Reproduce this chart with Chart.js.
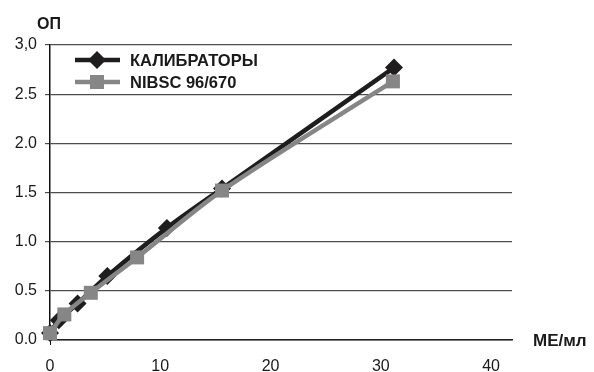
<!DOCTYPE html>
<html>
<head>
<meta charset="utf-8">
<script src="https://cdn.jsdelivr.net/npm/chart.js@4/dist/chart.umd.min.js"></script>
<style>
  html, body { margin: 0; padding: 0; background: #fff; }
  canvas { display: block; }
</style>
</head>
<body>
<canvas id="c" width="594" height="372"></canvas>
<script>
// Calibration curves: optical density (ОП) versus concentration (МЕ/мл)
const seriesNames = ['КАЛИБРАТОРЫ', 'NIBSC 96/670'];
const calibX = [0, 0.8, 2.5, 5.2, 10.6, 15.6, 31.2];
const calibY = [0.07, 0.2, 0.37, 0.65, 1.14, 1.54, 2.77];
const nibscX = [0, 1.3, 3.7, 7.9, 15.6, 31.1];
const nibscY = [0.07, 0.26, 0.48, 0.84, 1.52, 2.63];
const xTicks = [0, 10, 20, 30, 40];
const yTicks = [0, 0.5, 1, 1.5, 2, 2.5, 3];
const yTickLabels = ['0.0', '0.5', '1.0', '1.5', '2.0', '2.5', '3,0'];
const yAxisTitle = 'ОП';
const xAxisTitle = 'МЕ/мл';

const FONT = '"Liberation Sans", Arial, sans-serif';
const BLACK = '#1f1d1e';
const GREY = '#868686';

const toPoints = (xs, ys) => xs.map((x, i) => ({ x: x, y: ys[i] }));

// Axis captions and the legend (line sample with its marker)
const decorations = {
  id: 'decorations',
  afterDraw(chart) {
    const ctx = chart.ctx;
    ctx.save();
    ctx.fillStyle = '#1a1a1a';
    ctx.textBaseline = 'middle';
    ctx.textAlign = 'left';
    ctx.font = 'bold 16px ' + FONT;
    ctx.fillText(yAxisTitle, 37, 25);
    ctx.font = 'bold 17px ' + FONT;
    ctx.fillText(xAxisTitle, 533, 341);

    const rows = [
      { name: seriesNames[0], color: BLACK, shape: 'diamond', y: 60 },
      { name: seriesNames[1], color: GREY, shape: 'square', y: 82 }
    ];
    rows.forEach(r => {
      ctx.strokeStyle = r.color;
      ctx.lineWidth = 4.5;
      ctx.beginPath();
      ctx.moveTo(75, r.y);
      ctx.lineTo(120, r.y);
      ctx.stroke();
      ctx.fillStyle = r.color;
      ctx.beginPath();
      if (r.shape === 'diamond') {
        ctx.moveTo(97, r.y - 9);
        ctx.lineTo(106, r.y);
        ctx.lineTo(97, r.y + 9);
        ctx.lineTo(88, r.y);
      } else {
        ctx.rect(90, r.y - 7, 14, 14);
      }
      ctx.closePath();
      ctx.fill();
      ctx.fillStyle = '#1a1a1a';
      ctx.font = 'bold 16.5px ' + FONT;
      ctx.fillText(r.name, 130, r.y + 1);
    });
    ctx.restore();
  }
};

new Chart(document.getElementById('c'), {
  type: 'line',
  data: {
    datasets: [
      {
        label: seriesNames[0],
        data: toPoints(calibX, calibY),
        borderColor: BLACK,
        backgroundColor: BLACK,
        borderWidth: 4.5,
        pointStyle: 'rectRot',
        pointRadius: 9,
        pointBorderWidth: 0,
        tension: 0.3,
        clip: false,
        order: 1
      },
      {
        label: seriesNames[1],
        data: toPoints(nibscX, nibscY),
        borderColor: GREY,
        backgroundColor: GREY,
        borderWidth: 4.5,
        pointStyle: 'rect',
        pointRadius: 9.9,
        pointBorderWidth: 0,
        tension: 0.3,
        clip: false,
        order: 0
      }
    ]
  },
  options: {
    responsive: false,
    animation: false,
    devicePixelRatio: 1,
    layout: { padding: { left: 0, top: 45, right: 82, bottom: 0 } },
    plugins: { legend: { display: false }, tooltip: { enabled: false } },
    scales: {
      x: {
        type: 'linear',
        min: 0,
        max: 41.9,
        afterBuildTicks: s => { s.ticks = xTicks.map(v => ({ value: v })); },
        afterFit: s => { s.height = 32; },
        ticks: {
          color: '#1a1a1a',
          font: { family: FONT, size: 16 },
          padding: 12,
          maxRotation: 0,
          callback: v => String(v)
        },
        grid: {
          drawOnChartArea: false,
          drawTicks: true,
          tickLength: 5,
          color: c => (c.tick && c.tick.value === 0 ? '#111' : 'rgba(0,0,0,0)')
        },
        border: { display: true, color: '#222', width: 1.5 }
      },
      y: {
        type: 'linear',
        min: 0,
        max: 3,
        afterBuildTicks: s => { s.ticks = yTicks.map(v => ({ value: v })); },
        afterFit: s => { s.width = 50; },
        ticks: {
          color: '#1a1a1a',
          font: { family: FONT, size: 16 },
          padding: 8,
          callback: (v, i) => yTickLabels[i]
        },
        grid: {
          color: '#4d4d4d',
          lineWidth: 1.2,
          tickLength: 5
        },
        border: { display: true, color: '#111', width: 1.5 }
      }
    }
  },
  plugins: [decorations]
});
</script>
</body>
</html>
